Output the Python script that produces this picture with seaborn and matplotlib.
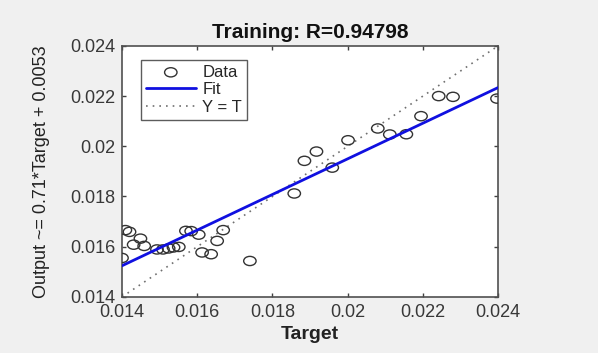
import matplotlib
matplotlib.use("Agg")
import matplotlib.pyplot as plt
from matplotlib.path import Path
import seaborn as sns
import pandas as pd

target = [0.01400, 0.01409, 0.01420, 0.01431, 0.01449, 0.01459, 0.01493, 0.01509,
          0.01524, 0.01537, 0.01551, 0.01570, 0.01584, 0.01604, 0.01613, 0.01637,
          0.01653, 0.01669, 0.01740, 0.01858, 0.01885, 0.01917, 0.01959, 0.02001,
          0.02080, 0.02112, 0.02156, 0.02195, 0.02242, 0.02280, 0.02397]
output = [0.01555, 0.01666, 0.01659, 0.01608, 0.01632, 0.01603, 0.01589, 0.01589,
          0.01593, 0.01597, 0.01599, 0.01663, 0.01662, 0.01648, 0.01577, 0.01570,
          0.01623, 0.01666, 0.01543, 0.01812, 0.01942, 0.01979, 0.01915, 0.02024,
          0.02071, 0.02047, 0.02048, 0.02120, 0.02200, 0.02197, 0.02190]
fit_x = [0.014, 0.024]
fit_y = [0.01524, 0.02234]
ident_x = [0.014, 0.024]
ident_y = [0.014, 0.024]
ticks = [0.014, 0.016, 0.018, 0.020, 0.022, 0.024]
tick_labels = ["0.014", "0.016", "0.018", "0.02", "0.022", "0.024"]
title = "Training: R=0.94798"

sns.set_style("white")
plt.rcParams['font.family'] = ['Liberation Sans', 'DejaVu Sans']

# horizontally stretched open circle, as in the reference
circ = Path.unit_circle()
ellipse = Path(circ.vertices * [1.35, 1.0], circ.codes)

fig = plt.figure(figsize=(5.98, 3.53), dpi=100, facecolor='#f0f0f0')
ax = fig.add_axes([0.204, 0.159, 0.629, 0.711])
ax.set_facecolor('white')

df = pd.DataFrame({"Target": target, "Output": output})
sns.scatterplot(data=df, x="Target", y="Output", ax=ax, marker=ellipse, s=80,
                facecolors='none', edgecolor='#333333', linewidth=1.0,
                label="Data", zorder=3)
sns.lineplot(x=fit_x, y=fit_y, ax=ax, color='#1010e0', linewidth=2.0,
             label="Fit", zorder=4)
sns.lineplot(x=ident_x, y=ident_y, ax=ax, color='#707070', linewidth=1.2,
             linestyle=(0, (1, 3)), label="Y = T", zorder=2)

ax.set_xlim(0.014, 0.024)
ax.set_ylim(0.014, 0.024)
ax.set_xticks(ticks)
ax.set_yticks(ticks)
ax.set_xticklabels(tick_labels, fontsize=13, color='#383838')
ax.set_yticklabels(tick_labels, fontsize=13, color='#383838')
ax.tick_params(direction='in', length=3, width=1, color='#404040',
               top=True, right=True, bottom=True, left=True, pad=5)
for sp in ax.spines.values():
    sp.set_color('#505050')
    sp.set_linewidth(1.2)

ax.set_title(title, fontsize=15, fontweight='bold', color='#111111', pad=6)
ax.set_xlabel("Target", fontsize=14, fontweight='bold', color='#222222', labelpad=4)
ax.set_ylabel("Output ~= 0.71*Target + 0.0053", fontsize=13, color='#222222', labelpad=14)

leg = ax.legend(loc='upper left', bbox_to_anchor=(0.05, 0.945), fontsize=12,
                frameon=True, fancybox=False, borderpad=0.3, labelspacing=0.15,
                handlelength=3.0, handletextpad=0.4, borderaxespad=0)
leg.get_frame().set_edgecolor('#333333')
leg.get_frame().set_linewidth(1.0)

fig.savefig("out.png", dpi=100, facecolor=fig.get_facecolor())
